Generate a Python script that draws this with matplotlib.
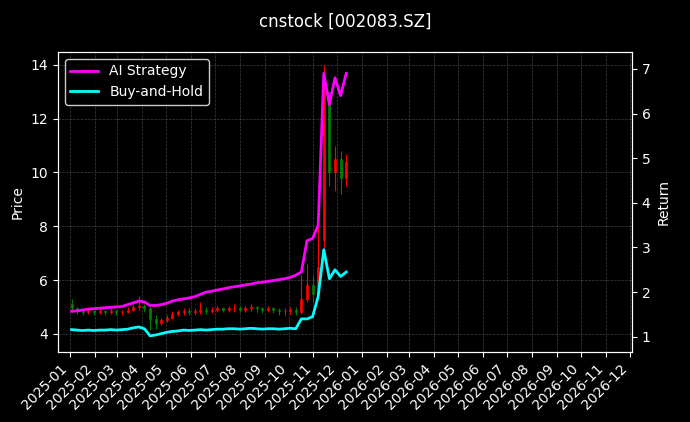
import numpy as np
import pandas as pd
import matplotlib
matplotlib.use("Agg")
import matplotlib.pyplot as plt
import matplotlib.dates as mdates

plt.style.use('dark_background')

dates = pd.date_range('2025-01-03', periods=50, freq='7D')
close = [4.95, 4.85, 4.80, 4.85, 4.80, 4.85, 4.82, 4.85, 4.80, 4.82,
         4.90, 5.00, 5.05, 4.95, 4.55, 4.40, 4.50, 4.60, 4.75, 4.80,
         4.85, 4.80, 4.85, 4.90, 4.85, 4.90, 4.95, 4.90, 4.95, 4.95,
         4.90, 4.95, 5.00, 4.95, 4.90, 4.95, 4.90, 4.85, 4.85, 4.90,
         4.80, 5.30, 5.80, 5.50, 6.50, 13.00, 10.00, 10.50, 9.80, 10.40]
opens = [5.10, 4.95, 4.85, 4.80, 4.85, 4.80, 4.85, 4.82, 4.85, 4.80,
         4.82, 4.90, 5.00, 5.05, 4.95, 4.55, 4.40, 4.50, 4.60, 4.75,
         4.80, 4.85, 4.80, 4.85, 4.90, 4.85, 4.90, 4.95, 4.90, 4.95,
         4.95, 4.90, 4.95, 5.00, 4.95, 4.90, 4.95, 4.90, 4.85, 4.85,
         4.90, 4.80, 5.30, 5.80, 5.50, 7.50, 13.00, 10.00, 10.50, 9.80]
high = [5.30, 5.00, 4.95, 4.95, 4.90, 4.95, 4.90, 4.95, 4.90, 4.90,
        5.00, 5.10, 5.40, 5.10, 5.00, 4.70, 4.60, 4.70, 4.85, 4.90,
        4.95, 4.95, 4.95, 5.20, 5.00, 5.00, 5.05, 5.00, 5.05, 5.10,
        5.05, 5.05, 5.10, 5.05, 5.00, 5.05, 5.00, 4.95, 4.95, 5.00,
        5.00, 6.20, 6.60, 6.20, 8.50, 14.00, 13.00, 11.00, 10.80, 10.70]
low = [4.80, 4.75, 4.70, 4.75, 4.70, 4.75, 4.72, 4.75, 4.70, 4.72,
       4.78, 4.85, 4.90, 4.80, 4.15, 4.20, 4.35, 4.45, 4.55, 4.65,
       4.70, 4.70, 4.72, 4.75, 4.75, 4.78, 4.80, 4.80, 4.82, 4.82,
       4.80, 4.82, 4.85, 4.82, 4.78, 4.80, 4.78, 4.72, 4.72, 4.75,
       4.70, 4.75, 5.20, 5.20, 5.40, 7.20, 9.50, 9.30, 9.20, 9.50]
ai_ret = [1.57, 1.58, 1.60, 1.62, 1.63, 1.64, 1.65, 1.66, 1.67, 1.68,
          1.72, 1.76, 1.80, 1.78, 1.70, 1.70, 1.72, 1.75, 1.80, 1.83,
          1.85, 1.87, 1.90, 1.95, 2.00, 2.02, 2.05, 2.07, 2.10, 2.12,
          2.14, 2.16, 2.18, 2.21, 2.22, 2.24, 2.26, 2.28, 2.30, 2.33,
          2.38, 2.45, 3.15, 3.20, 3.50, 6.90, 6.20, 6.80, 6.40, 6.90]
bh_ret = [1.16, 1.15, 1.14, 1.15, 1.14, 1.15, 1.15, 1.16, 1.15, 1.16,
          1.17, 1.20, 1.22, 1.18, 1.02, 1.04, 1.07, 1.10, 1.12, 1.13,
          1.15, 1.14, 1.15, 1.16, 1.15, 1.16, 1.17, 1.17, 1.18, 1.18,
          1.17, 1.18, 1.19, 1.18, 1.17, 1.18, 1.18, 1.17, 1.18, 1.19,
          1.18, 1.40, 1.40, 1.45, 1.90, 2.95, 2.30, 2.50, 2.35, 2.45]

fig = plt.figure(figsize=(6.9, 4.22), dpi=100)
ax = fig.add_axes([0.084, 0.166, 0.832, 0.711])
ax2 = ax.twinx()

x = mdates.date2num(dates)
for i in range(len(x)):
    c = 'red' if close[i] >= opens[i] else 'green'
    ax.vlines(x[i], low[i], high[i], color=c, linewidth=0.8)
    ax.bar(x[i], abs(close[i] - opens[i]) or 0.02, bottom=min(close[i], opens[i]),
           width=2.5, color=c, edgecolor=c, linewidth=0.5)

ax2.plot(dates, ai_ret, color='magenta', lw=2, label='AI Strategy')
ax2.plot(dates, bh_ret, color='cyan', lw=2, label='Buy-and-Hold')

ax.set_ylim(3.33, 14.48)
ax2.set_ylim(0.66, 7.38)
ax.set_xlim(pd.Timestamp('2024-12-17'), pd.Timestamp('2026-12-04'))
ax.xaxis.set_major_locator(mdates.MonthLocator())
ax.xaxis.set_major_formatter(mdates.DateFormatter('%Y-%m'))
plt.setp(ax.get_xticklabels(), rotation=45, ha='right')
ax.grid(True, linestyle='--', linewidth=0.5, color='gray', alpha=0.5)
ax.set_ylabel('Price')
ax2.set_ylabel('Return')
ax2.legend(loc='upper left', edgecolor='white')
fig.suptitle('cnstock [002083.SZ]', y=0.97)

fig.savefig('out.png', dpi=100)
